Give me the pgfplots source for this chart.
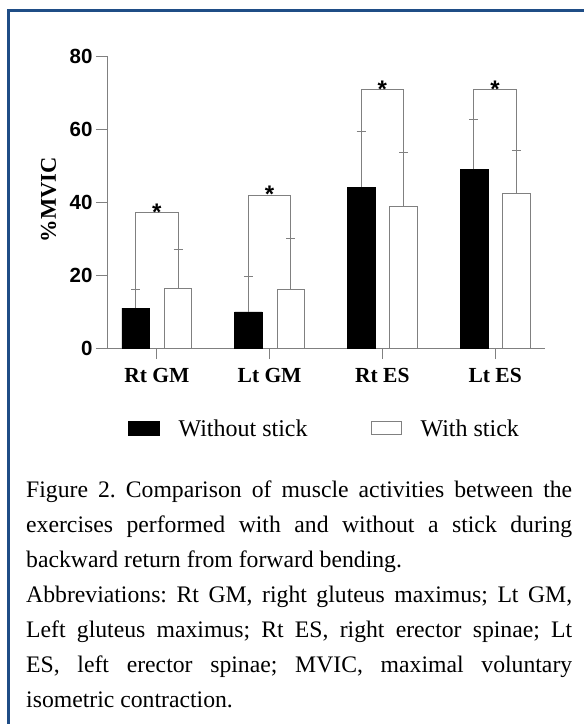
\documentclass[border=0pt]{standalone}
\usepackage{fontspec}
\setmainfont{Liberation Serif}
\newfontfamily\arial{Liberation Sans}
\usepackage{pgfplots}
\pgfplotsset{compat=1.18}
\definecolor{framebl}{RGB}{31,77,134}
\definecolor{lgray}{RGB}{128,128,128}

\begin{document}
\begin{tikzpicture}
\useasboundingbox (0,0) rectangle (584pt,-724pt);
\fill[framebl] (7pt,-9pt) rectangle (10pt,-724pt);
\fill[framebl] (7pt,-9pt) rectangle (584pt,-12pt);
\begin{axis}[
  scale only axis, width=438pt, height=292pt,
  at={(107pt,-348pt)}, anchor=south west,
  xmin=-0.442, xmax=3.442, ymin=0, ymax=80,
  axis x line*=bottom, axis y line*=left,
  axis line style={lgray, line width=1pt},
  xtick={0,1,2,3}, xticklabels={Rt GM, Lt GM, Rt ES, Lt ES},
  ytick={0,20,40,60,80},
  tick align=outside, major tick length=11pt,
  every tick/.style={lgray, line width=1pt},
  /pgf/number format/assume math mode=true,
  yticklabel style={font=\arial\bfseries\fontsize{20.5}{24}\selectfont},
  xticklabel style={font=\bfseries\fontsize{21.5}{24}\selectfont, yshift=-6pt},
  ylabel={\%MVIC},
  ylabel style={font=\bfseries\fontsize{22.5}{26}\selectfont, at={(axis description cs:-0.1335,0.507)}, anchor=center},
  legend columns=2,
  legend cell align=left,
  legend style={draw=none, fill=none, at={(0.0479,-0.2784)}, anchor=west,
    font=\fontsize{24}{28}\selectfont, inner sep=0pt, nodes={inner sep=0pt},
    /tikz/every odd column/.append style={column sep=19pt},
    /tikz/every even column/.append style={column sep=63pt}},
  clip=false,
]
\addplot[ybar, bar width=0.245, bar shift=0pt, fill=black, draw=black,
  legend image code/.code={\fill[black] (0pt,-6.2pt) rectangle (31pt,7.8pt);},
  error bars/.cd, y dir=plus, y explicit,
  error bar style={lgray, line width=1pt},
  error mark options={rotate=90, lgray, line width=1pt, mark size=4.5pt}]
  coordinates {(-0.188,10.9) +- (0,5.0) (0.812,9.9) +- (0,9.8) (1.812,44.1) +- (0,15.1) (2.812,49.0) +- (0,13.5)};
\addlegendentry{Without stick}
\addplot[ybar, bar width=0.245, bar shift=0pt, fill=white, draw=lgray, line width=1pt,
  legend image code/.code={\draw[fill=white, draw=lgray, line width=1pt] (0.5pt,-5.7pt) rectangle (30.5pt,7.3pt);},
  error bars/.cd, y dir=plus, y explicit,
  error bar style={lgray, line width=1pt},
  error mark options={rotate=90, lgray, line width=1pt, mark size=4.5pt}]
  coordinates {(0.188,16.4) +- (0,10.5) (1.188,15.9) +- (0,14.2) (2.188,38.9) +- (0,14.8) (3.188,42.2) +- (0,11.8)};
\addlegendentry{With stick}
% significance brackets
\addplot[lgray, line width=1pt, forget plot] coordinates {(-0.188,15.9) (-0.188,37.0) (0.188,37.0) (0.188,26.9)};
\addplot[lgray, line width=1pt, forget plot] coordinates {(0.812,19.7) (0.812,41.9) (1.188,41.9) (1.188,30.1)};
\addplot[lgray, line width=1pt, forget plot] coordinates {(1.812,59.2) (1.812,70.7) (2.188,70.7) (2.188,53.7)};
\addplot[lgray, line width=1pt, forget plot] coordinates {(2.812,62.5) (2.812,70.7) (3.188,70.7) (3.188,54.0)};
\node[font=\arial\bfseries\fontsize{24}{26}\selectfont, anchor=base, yshift=-7.5pt] at (axis cs:0,37.0) {*};
\node[font=\arial\bfseries\fontsize{24}{26}\selectfont, anchor=base, yshift=-7.5pt] at (axis cs:1,41.9) {*};
\node[font=\arial\bfseries\fontsize{24}{26}\selectfont, anchor=base, yshift=-7.5pt] at (axis cs:2,70.7) {*};
\node[font=\arial\bfseries\fontsize{24}{26}\selectfont, anchor=base, yshift=-7.5pt] at (axis cs:3,70.7) {*};
\end{axis}
\node[anchor=base west, inner sep=0pt] at (26pt,-497pt) {\parbox[t]{546pt}{\fontsize{23.7}{35}\selectfont\frenchspacing\parindent=0pt\parskip=0pt\tolerance=10000\hyphenpenalty=10000
Figure 2. Comparison of muscle activities between the\linebreak
exercises performed with and without a stick during\linebreak
backward return from forward bending.\par
Abbreviations: Rt GM, right gluteus maximus; Lt GM,\linebreak
Left gluteus maximus; Rt ES, right erector spinae; Lt\linebreak
ES, left erector spinae; MVIC, maximal voluntary\linebreak
isometric contraction.}};
\end{tikzpicture}
\end{document}
